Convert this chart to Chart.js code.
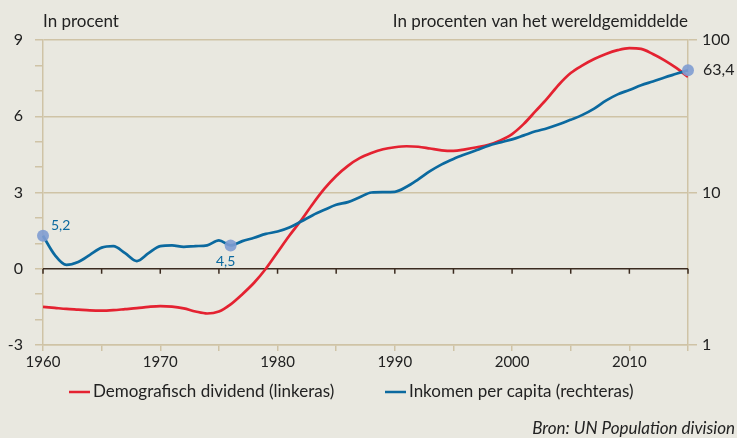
<!DOCTYPE html>
<html>
<head>
<meta charset="utf-8">
<script src="https://cdn.jsdelivr.net/npm/chart.js@4"></script>
<style>
    html, body {
        margin: 0;
        padding: 0;
        background: #e9e8e0;
    }
    #wrap {
        width: 737px;
        height: 438px;
    }
</style>
</head>
<body>
<div id="wrap">
    <canvas id="dividendChart" width="737" height="438"></canvas>
</div>
<script>
/* ==========================================
   Data
========================================== */

const years = [
    1960, 1961, 1962, 1963, 1964, 1965, 1966, 1967, 1968, 1969,
    1970, 1971, 1972, 1973, 1974, 1975, 1976, 1977, 1978, 1979,
    1980, 1981, 1982, 1983, 1984, 1985, 1986, 1987, 1988, 1989,
    1990, 1991, 1992, 1993, 1994, 1995, 1996, 1997, 1998, 1999,
    2000, 2001, 2002, 2003, 2004, 2005, 2006, 2007, 2008, 2009,
    2010, 2011, 2012, 2013, 2014, 2015
];

// Demografisch dividend, in procent (linkeras)
const dividend = [
    -1.50, -1.54, -1.58, -1.61, -1.64, -1.65, -1.63, -1.59, -1.55, -1.50,
    -1.47, -1.49, -1.56, -1.68, -1.76, -1.68, -1.40, -1.00, -0.55, 0.00,
    0.65, 1.30, 1.90, 2.55, 3.15, 3.65, 4.05, 4.35, 4.55, 4.70,
    4.78, 4.82, 4.80, 4.73, 4.66, 4.64, 4.70, 4.78, 4.88, 5.05,
    5.30, 5.70, 6.20, 6.70, 7.25, 7.70, 8.00, 8.25, 8.45, 8.60,
    8.68, 8.65, 8.45, 8.20, 7.90, 7.55
];

// Inkomen per capita, in procenten van het wereldgemiddelde (rechteras)
const income = [
    5.2, 3.9, 3.35, 3.5, 3.9, 4.35, 4.45, 4.0, 3.55, 4.0,
    4.45, 4.5, 4.4, 4.45, 4.5, 4.85, 4.5, 4.8, 5.05, 5.35,
    5.55, 5.9, 6.45, 7.1, 7.7, 8.3, 8.65, 9.3, 10.0, 10.05,
    10.1, 10.9, 12.2, 13.8, 15.3, 16.6, 17.8, 19.0, 20.3, 21.3,
    22.3, 23.7, 25.2, 26.4, 28.0, 30.0, 32.3, 35.5, 40.0, 44.0,
    47.0, 50.5, 53.5, 56.8, 60.0, 63.4
];

const leftTicks = [-3, 0, 3, 6, 9];
const rightTicks = [1, 10, 100];
const xLabelYears = [1960, 1970, 1980, 1990, 2000, 2010];

const markYears = [1960, 1976, 2015];
const markLabels = ["5,2", "4,5", "63,4"];

const seriesNames = [
    "Demografisch dividend (linkeras)",
    "Inkomen per capita (rechteras)"
];

/* ==========================================
   Styles
========================================== */

const RED = "#e42231";
const BLUE = "#0b699f";
const TAN = "#cfc3a6";
const DARK = "#3b2b20";
const TEXT = "#222222";
const FONT = "Lato, 'Open Sans', sans-serif";

/* ==========================================
   Plugin: zero line, marker labels, titles, legend
========================================== */

const extras = {

    id: "extras",

    beforeDatasetsDraw(chart) {

        const { ctx, chartArea, scales } = chart;
        const y0 = scales.y.getPixelForValue(0);

        ctx.save();
        ctx.strokeStyle = DARK;
        ctx.lineWidth = 1.5;
        ctx.beginPath();
        ctx.moveTo(chartArea.left, y0);
        ctx.lineTo(chartArea.right, y0);
        for (let yr = years[0]; yr <= years[years.length - 1]; yr += 5) {
            const x = scales.x.getPixelForValue(yr);
            ctx.moveTo(x, y0);
            ctx.lineTo(x, y0 + 5);
        }
        ctx.stroke();
        ctx.restore();

    },

    afterDraw(chart) {

        const { ctx, chartArea, scales } = chart;

        ctx.save();

        // axis titles
        ctx.fillStyle = TEXT;
        ctx.font = "17px " + FONT;
        ctx.textBaseline = "alphabetic";
        ctx.textAlign = "left";
        ctx.fillText("In procent", chartArea.left, 27);
        ctx.textAlign = "right";
        ctx.fillText("In procenten van het wereldgemiddelde", chartArea.right, 27);

        // marker labels
        ctx.textBaseline = "middle";
        markYears.forEach((yr, i) => {
            const idx = years.indexOf(yr);
            const x = scales.x.getPixelForValue(yr);
            const y = scales.y2.getPixelForValue(income[idx]);
            if (i === 0) {
                ctx.fillStyle = BLUE;
                ctx.font = "14px " + FONT;
                ctx.textAlign = "left";
                ctx.fillText(markLabels[i], x + 8, y - 10);
            } else if (i === 1) {
                ctx.fillStyle = BLUE;
                ctx.font = "14px " + FONT;
                ctx.textAlign = "center";
                ctx.fillText(markLabels[i], x - 5, y + 16);
            } else {
                ctx.fillStyle = TEXT;
                ctx.font = "16px " + FONT;
                ctx.textAlign = "left";
                ctx.fillText(markLabels[i], x + 15, y);
            }
        });

        // legend
        const legendY = 392;
        const items = [
            { x: 69, color: RED, text: seriesNames[0] },
            { x: 385, color: BLUE, text: seriesNames[1] }
        ];
        ctx.font = "17px " + FONT;
        ctx.textAlign = "left";
        ctx.textBaseline = "middle";
        items.forEach(item => {
            ctx.strokeStyle = item.color;
            ctx.lineWidth = 2.5;
            ctx.beginPath();
            ctx.moveTo(item.x, legendY);
            ctx.lineTo(item.x + 21, legendY);
            ctx.stroke();
            ctx.fillStyle = TEXT;
            ctx.fillText(item.text, item.x + 24, legendY);
        });

        // source
        ctx.font = "italic 17px " + FONT;
        ctx.textAlign = "right";
        ctx.fillText("Bron: UN Population division", 735, 429);

        ctx.restore();

    }

};

/* ==========================================
   Chart
========================================== */

const chartCanvas = document.getElementById("dividendChart");

if (chartCanvas) {

    const ctx = chartCanvas.getContext("2d");

    new Chart(ctx, {

        type: "line",

        data: {

            datasets: [{

                label: seriesNames[0],

                data: years.map((yr, i) => ({ x: yr, y: dividend[i] })),

                yAxisID: "y",

                borderColor: RED,

                borderWidth: 2.7,

                pointRadius: 0,

                cubicInterpolationMode: "monotone",

                order: 1

            }, {

                label: seriesNames[1],

                data: years.map((yr, i) => ({ x: yr, y: income[i] })),

                yAxisID: "y2",

                borderColor: BLUE,

                borderWidth: 2.7,

                pointRadius: years.map(yr => markYears.includes(yr) ? 6 : 0),

                pointBackgroundColor: "rgba(128,156,210,0.9)",

                pointBorderWidth: 0,

                cubicInterpolationMode: "monotone",

                clip: false,

                order: 0

            }]

        },

        options: {

            responsive: false,

            animation: false,

            layout: {
                padding: { left: 0, right: 0, top: 40, bottom: 63 }
            },

            plugins: {

                legend: {
                    display: false
                },

                tooltip: {
                    enabled: false
                }

            },

            scales: {

                x: {

                    type: "linear",

                    min: years[0],

                    max: years[years.length - 1],

                    afterFit(scale) {
                        scale.height = 30;
                    },

                    ticks: {
                        stepSize: 5,
                        autoSkip: false,
                        maxRotation: 0,
                        padding: 2,
                        color: TEXT,
                        font: { family: FONT, size: 15 },
                        callback: v => xLabelYears.includes(v) ? String(v) : ""
                    },

                    grid: {
                        drawOnChartArea: false,
                        tickLength: 6,
                        tickColor: TAN,
                        lineWidth: 1.5
                    },

                    border: {
                        color: TAN,
                        width: 1.5
                    }

                },

                y: {

                    position: "left",

                    min: -3,

                    max: 9,

                    afterFit(scale) {
                        scale.width = 43;
                    },

                    ticks: {
                        stepSize: 1,
                        padding: 12,
                        color: TEXT,
                        font: { family: FONT, size: 16 },
                        callback: v => leftTicks.includes(v) ? String(v) : ""
                    },

                    grid: {
                        color: c => (c.tick && leftTicks.includes(c.tick.value) && c.tick.value !== 0) ? TAN : "rgba(0,0,0,0)",
                        tickColor: TAN,
                        tickLength: 8,
                        lineWidth: 1.5
                    },

                    border: {
                        color: TAN,
                        width: 1.5
                    }

                },

                y2: {

                    type: "logarithmic",

                    position: "right",

                    min: 1,

                    max: 100,

                    afterFit(scale) {
                        scale.width = 49;
                    },

                    afterBuildTicks(scale) {
                        scale.ticks = rightTicks.map(v => ({ value: v }));
                    },

                    ticks: {
                        padding: 5,
                        color: TEXT,
                        font: { family: FONT, size: 16 },
                        callback: v => String(v)
                    },

                    grid: {
                        drawOnChartArea: false,
                        tickColor: TAN,
                        tickLength: 9,
                        lineWidth: 1.5
                    },

                    border: {
                        color: TAN,
                        width: 1.5
                    }

                }

            }

        },

        plugins: [extras]

    });

}
</script>
</body>
</html>
